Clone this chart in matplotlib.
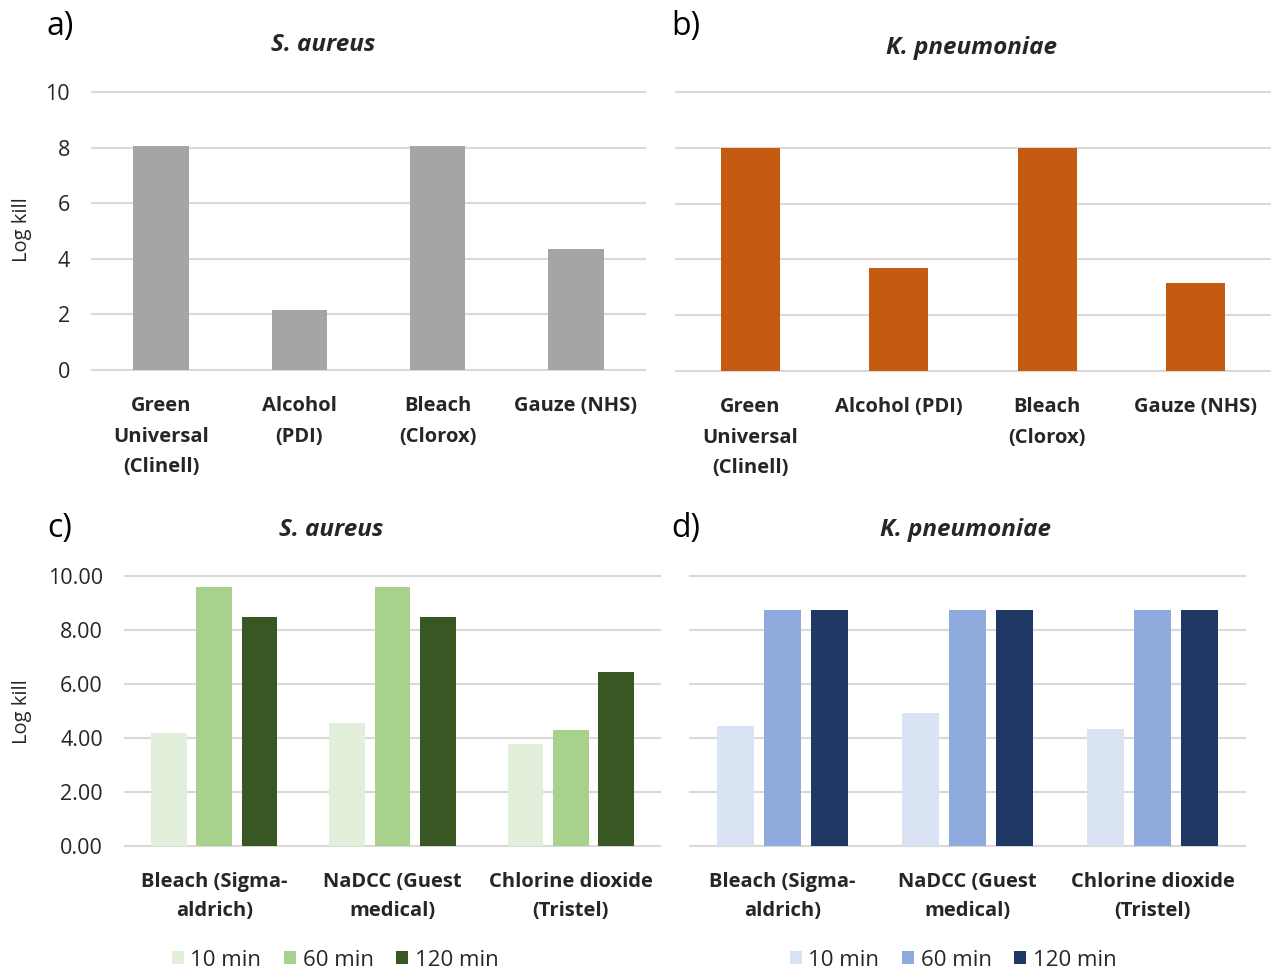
import numpy as np
import matplotlib
matplotlib.use("Agg")
import matplotlib.pyplot as plt
from matplotlib.patches import Patch

plt.rcParams["font.family"] = ["Open Sans", "DejaVu Sans"]

# top row data: single time point
wipes = ["Green\nUniversal\n(Clinell)", "Alcohol\n(PDI)", "Bleach\n(Clorox)", "Gauze (NHS)"]
wipes_b = ["Green\nUniversal\n(Clinell)", "Alcohol (PDI)", "Bleach\n(Clorox)", "Gauze (NHS)"]
aureus_wipes = [8.05, 2.17, 8.05, 4.35]
kpneu_wipes = [8.0, 3.68, 8.0, 3.15]

# bottom row data: three contact times
products = ["Bleach (Sigma-\naldrich)", "NaDCC (Guest\nmedical)", "Chlorine dioxide\n(Tristel)"]
times = ["10 min", "60 min", "120 min"]
aureus_times = {
    "10 min": [4.19, 4.56, 3.78],
    "60 min": [9.59, 9.59, 4.30],
    "120 min": [8.48, 8.48, 6.44],
}
kpneu_times = {
    "10 min": [4.44, 4.93, 4.33],
    "60 min": [8.74, 8.74, 8.74],
    "120 min": [8.74, 8.74, 8.74],
}

grey = "#A5A5A5"
orange = "#C55A11"
greens = ["#E2EFDA", "#A9D18E", "#385723"]
blues = ["#DAE3F3", "#8FAADC", "#203864"]
grid_col = "#D9D9D9"
txt_col = "#262626"

W, H = 1277, 976
fig = plt.figure(figsize=(W / 100, H / 100), dpi=100)


def px_axes(left, right, top, bottom):
    # pixel box -> figure fraction
    return fig.add_axes([left / W, 1 - bottom / H, (right - left) / W, (bottom - top) / H])


def style(ax, show_y, fmt, xpad, lspace):
    for s in ax.spines.values():
        s.set_visible(False)
    ax.set_ylim(0, 10)
    ax.set_yticks(np.arange(0, 11, 2))
    ax.yaxis.grid(True, color=grid_col, linewidth=1.5)
    ax.set_axisbelow(True)
    ax.tick_params(axis="both", length=0)
    ax.tick_params(axis="x", pad=xpad, labelsize=14.5)
    ax.tick_params(axis="y", pad=16, labelsize=15.5, labelcolor=txt_col)
    for lab in ax.get_xticklabels():
        lab.set_fontweight("bold")
        lab.set_linespacing(lspace)
        lab.set_color(txt_col)
    if show_y:
        ax.set_yticklabels([fmt.format(v) for v in np.arange(0, 11, 2)])
    else:
        ax.set_yticklabels([])
    for l in ax.get_yaxis().get_gridlines():
        l.set_clip_on(False)


def single(ax, cats, vals, color, show_y):
    x = np.arange(len(cats))
    ax.bar(x, vals, width=0.4, color=color)
    ax.set_xlim(-0.5, len(cats) - 0.5)
    ax.set_xticks(x)
    ax.set_xticklabels(cats)
    style(ax, show_y, "{:.0f}", 19, 1.7)


def grouped(ax, data, colors, show_y):
    x = np.arange(len(products))
    for i, t in enumerate(times):
        ax.bar(x + (i - 1) * 0.255, data[t], width=0.2, color=colors[i])
    ax.set_xlim(-0.5, len(products) - 0.5)
    ax.set_xticks(x)
    ax.set_xticklabels(products)
    style(ax, show_y, "{:.2f}", 19, 1.6)


ax_a = px_axes(92, 645, 92, 370)
single(ax_a, wipes, aureus_wipes, grey, True)
ax_b = px_axes(676, 1270, 92, 371)
single(ax_b, wipes_b, kpneu_wipes, orange, False)
ax_c = px_axes(125, 660, 576, 846)
grouped(ax_c, aureus_times, greens, True)
ax_d = px_axes(690, 1245, 576, 846)
grouped(ax_d, kpneu_times, blues, False)

# y labels placed by hand so both panels line up
for y in (230, 712):
    fig.text(22 / W, 1 - y / H, "Log kill", fontsize=14.5, color=txt_col,
             rotation=90, va="center", ha="center")

# panel letters and titles
for txt, x, y in [("a)", 47, 27), ("b)", 671, 27), ("c)", 47, 529), ("d)", 671, 529)]:
    fig.text(x / W, 1 - y / H, txt, fontsize=23, va="center", ha="left")
for txt, x, y in [("S. aureus", 323, 45), ("K. pneumoniae", 972, 48),
                  ("S. aureus", 331, 530), ("K. pneumoniae", 966, 530)]:
    fig.text(x / W, 1 - y / H, txt, fontsize=17.5, fontweight="bold", fontstyle="italic",
             va="center", ha="center", color=txt_col)

# legends under the bottom panels
for colors, cx in [(greens, 335), (blues, 953)]:
    handles = [Patch(facecolor=c, edgecolor="none", label=t) for c, t in zip(colors, times)]
    fig.legend(handles=handles, loc="center", bbox_to_anchor=(cx / W, 1 - 960 / H),
               ncol=3, frameon=False, fontsize=16, handlelength=0.55, handleheight=0.55,
               handletextpad=0.3, columnspacing=1.0, labelcolor=txt_col)

fig.savefig("out.png", dpi=100)
